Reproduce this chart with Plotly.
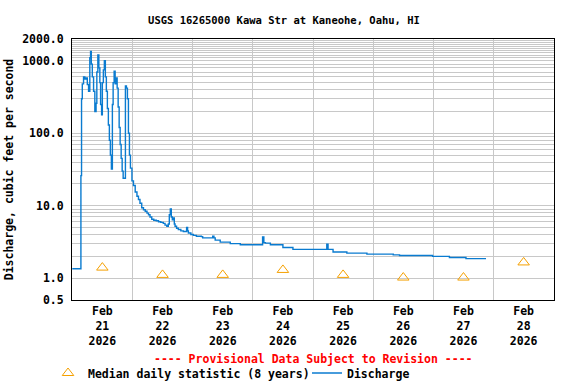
import pandas as pd
import plotly.graph_objects as go

# ---- data (hours after 2026-02-21 00:00, discharge cfs) ----
hours = [0.0, 3.45, 3.7, 4.0, 4.5, 5.0, 5.5, 6.0, 6.5, 7.0, 7.3, 7.6, 8.0, 8.5, 9.0, 9.5,
         9.8, 10.2, 10.6, 11.0, 11.3, 11.7, 12.0, 12.4, 12.8, 13.2, 13.6, 14.0, 14.4, 14.8,
         15.2, 15.6, 16.0, 16.3, 16.7, 17.1, 17.5, 17.9, 18.3, 18.7, 19.1, 19.5, 19.9, 20.3,
         20.8, 21.2, 21.6, 22.0, 22.4, 22.8, 23.2, 23.8, 24.4, 25.1, 25.8, 26.4, 27.0, 27.7,
         28.4, 29.1, 29.8, 30.4, 31.0, 31.7, 32.5, 33.5, 34.4, 35.3, 36.3, 37.0, 37.7, 38.3,
         38.7, 39.1, 39.5, 39.9, 40.3, 40.7, 41.0, 41.6, 42.3, 43.3, 44.3, 45.3, 45.6, 46.0,
         46.3, 47.3, 48.3, 49.5, 51.5, 52.0, 55.6, 56.0, 56.5, 57.0, 59.0, 63.0, 67.0, 75.5,
         75.9, 76.4, 77.0, 79.0, 83.0, 84.0, 88.0, 101.2, 101.5, 102.0, 104.0, 109.5, 117.5,
         128.0, 130.5, 143.7, 150.4, 157.0, 165.0]
discharge = [1.35, 26, 300, 480, 600, 560, 580, 470, 380, 1100, 1350, 900, 600, 380, 200, 260,
             700, 1200, 800, 500, 250, 180, 500, 750, 1000, 600, 380, 220, 130, 80,
             50, 32, 250, 500, 720, 480, 580, 420, 230, 120, 70, 45, 30, 24,
             24, 450, 420, 300, 100, 50, 33, 22, 19, 15.5, 13.5, 12.2, 10.8, 9.4,
             8.8, 8.4, 7.9, 7.5, 7.0, 6.5, 6.3, 6.2, 6.0, 5.9, 5.7, 5.4, 5.2, 5.6,
             7.5, 9.0, 7.0, 6.4, 6.8, 5.6, 5.2, 4.9, 4.7, 4.5, 4.4, 4.4, 5.0, 4.5,
             4.2, 4.0, 3.9, 3.8, 3.75, 3.6, 3.6, 3.8, 3.6, 3.35, 3.15, 3.0, 2.9, 2.9,
             3.7, 3.1, 3.05, 2.9, 2.9, 2.65, 2.5, 2.5, 2.95, 2.5, 2.3, 2.22, 2.15,
             2.1, 2.06, 2.0, 1.93, 1.86, 1.86]

median_days = ["2026-02-21 12:00", "2026-02-22 12:00", "2026-02-23 12:00", "2026-02-24 12:00",
               "2026-02-25 12:00", "2026-02-26 12:00", "2026-02-27 12:00", "2026-02-28 12:00"]
median_vals = [1.4, 1.11, 1.11, 1.3, 1.11, 1.02, 1.02, 1.65]

tick_dates = median_days
tick_text = ["Feb<br>%d<br>2026" % d for d in range(21, 29)]

y_grid = [0.5] + [m * 10 ** e for e in range(0, 3) for m in range(1, 10)] + \
         [1000 + 100 * k for k in range(0, 11)]
y_labels = {0.5: "0.5", 1: "1.0", 10: "10.0", 100: "100.0", 1000: "1000.0", 2000: "2000.0"}
y_text = [y_labels.get(v, "") for v in y_grid]

base = pd.Timestamp("2026-02-21 00:00")
times = [base + pd.Timedelta(hours=h) for h in hours]

FONT = "DejaVu Sans Mono"

fig = go.Figure()
fig.add_trace(go.Scatter(
    x=median_days, y=median_vals, mode="markers", name="Median daily statistic (8 years)",
    marker=dict(symbol="triangle-up-open", size=10, color="#f5a000", line=dict(width=1)),
    legend="legend"))
fig.add_trace(go.Scatter(
    x=times, y=discharge, mode="lines", name="Discharge", line_shape="hv",
    line=dict(color="#0a7bd0", width=1.4), legend="legend2"))

fig.update_layout(
    width=576, height=384,
    margin=dict(l=72, r=22, t=39, b=84, autoexpand=False),
    paper_bgcolor="white", plot_bgcolor="white",
    font=dict(family=FONT, size=11.5, color="black", weight="bold"),
    title=dict(text="USGS 16265000 Kawa Str at Kaneohe, Oahu, HI", x=284 / 576, xanchor="center",
               y=1 - 20 / 384, yanchor="middle", font=dict(family=FONT, size=10.5, weight="bold")),
    legend=dict(orientation="h", xref="container", yref="container", x=48 / 576, y=1 - 373 / 384,
                xanchor="left", yanchor="middle", bgcolor="rgba(0,0,0,0)",
                font=dict(family=FONT, size=11.5, weight="bold")),
    legend2=dict(orientation="h", xref="container", yref="container", x=307 / 576, y=1 - 373 / 384,
                 xanchor="left", yanchor="middle", bgcolor="rgba(0,0,0,0)",
                 font=dict(family=FONT, size=11.5, weight="bold")),
    showlegend=True,
)
fig.update_xaxes(
    type="date", range=["2026-02-21 00:00", "2026-02-29 00:00"],
    tickmode="array", tickvals=tick_dates, ticktext=tick_text, ticks="",
    showgrid=False, showline=True, linecolor="black", linewidth=1, mirror=True,
    minor=dict(tick0="2026-02-21", dtick=86400000, showgrid=True, gridcolor="#c8c8c8", gridwidth=1),
    tickfont=dict(family=FONT, size=11.5, weight="bold"), zeroline=False, automargin=False,
)
fig.update_yaxes(
    type="log", range=[-0.30103, 3.30103],
    tickmode="array", tickvals=y_grid, ticktext=y_text, ticks="",
    showgrid=True, gridcolor="#c8c8c8", gridwidth=1,
    showline=True, linecolor="black", linewidth=1, mirror=True,
    tickfont=dict(family=FONT, size=11.5, weight="bold"), ticklabelstandoff=5,
    title=dict(text="Discharge, cubic feet per second", standoff=6,
               font=dict(family=FONT, size=11.5, weight="bold")),
    automargin=False,
)
fig.add_annotation(text="---- Provisional Data Subject to Revision ----", xref="paper", yref="paper",
                   x=0.5, y=(300 - 359) / 261, xanchor="center", yanchor="middle", showarrow=False,
                   font=dict(family=FONT, size=11.5, color="red", weight="bold"))

fig.write_html("out.html", config={"displayModeBar": False},
               post_script="document.body.style.margin='0';")
